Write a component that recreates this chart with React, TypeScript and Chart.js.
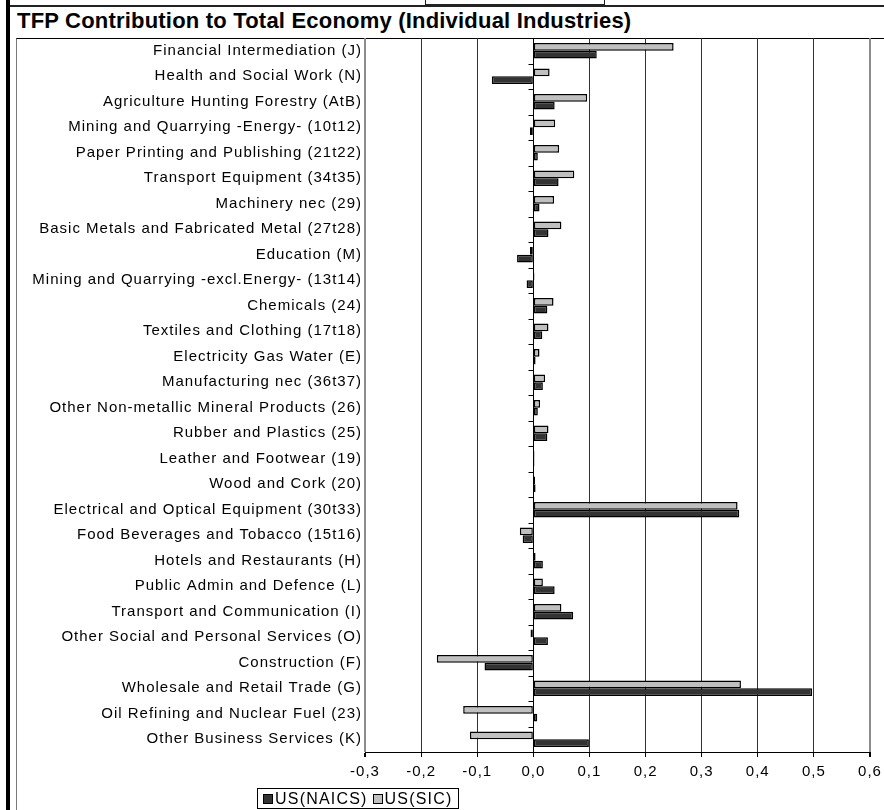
import React, { useEffect, useRef } from "react";
import { Chart, registerables } from "chart.js";

Chart.register(...registerables);

const categories = [
  "Financial Intermediation (J)",
  "Health and Social Work (N)",
  "Agriculture Hunting Forestry (AtB)",
  "Mining and Quarrying -Energy- (10t12)",
  "Paper Printing and Publishing (21t22)",
  "Transport Equipment (34t35)",
  "Machinery nec (29)",
  "Basic Metals and Fabricated Metal (27t28)",
  "Education (M)",
  "Mining and Quarrying -excl.Energy- (13t14)",
  "Chemicals (24)",
  "Textiles and Clothing (17t18)",
  "Electricity Gas Water (E)",
  "Manufacturing nec (36t37)",
  "Other Non-metallic Mineral Products (26)",
  "Rubber and Plastics (25)",
  "Leather and Footwear (19)",
  "Wood and Cork (20)",
  "Electrical and Optical Equipment (30t33)",
  "Food Beverages and Tobacco (15t16)",
  "Hotels and Restaurants (H)",
  "Public Admin and Defence (L)",
  "Transport and Communication (I)",
  "Other Social and Personal Services (O)",
  "Construction (F)",
  "Wholesale and Retail Trade (G)",
  "Oil Refining and Nuclear Fuel (23)",
  "Other Business Services (K)",
];

const usSIC = [
  0.25, 0.029, 0.096, 0.039, 0.046, 0.073, 0.037, 0.05, -0.006, 0.002,
  0.036, 0.027, 0.011, 0.021, 0.012, 0.027, 0.002, 0.003, 0.364, -0.024,
  0.004, 0.017, 0.05, -0.005, -0.172, 0.37, -0.125, -0.113,
];

const usNAICS = [
  0.113, -0.074, 0.038, -0.006, 0.008, 0.045, 0.011, 0.027, -0.029, -0.012,
  0.025, 0.016, 0.004, 0.017, 0.008, 0.025, 0.002, 0.004, 0.367, -0.019,
  0.017, 0.038, 0.071, 0.026, -0.087, 0.497, 0.007, 0.099,
];

const xMin = -0.3;
const xMax = 0.6;
const xStep = 0.1;

const TITLE = "TFP Contribution to Total Economy (Individual Industries)";
const FONT = 'Arial, "Liberation Sans", sans-serif';

const textSpacingPlugin = {
  id: "textSpacing",
  beforeDraw(chart: any) {
    chart.ctx.letterSpacing = "1px";
  },
};

const zeroAxisPlugin = {
  id: "zeroAxis",
  afterDatasetsDraw(chart: any) {
    const { ctx, chartArea, scales } = chart;
    const x0 = Math.round(scales.x.getPixelForValue(0)) + 0.5;
    ctx.save();
    ctx.strokeStyle = "#000";
    ctx.lineWidth = 1;
    ctx.beginPath();
    ctx.moveTo(x0, chartArea.top);
    ctx.lineTo(x0, chartArea.bottom);
    const n = categories.length;
    const h = (chartArea.bottom - chartArea.top) / n;
    for (let i = 0; i <= n; i++) {
      const y = Math.round(chartArea.top + i * h) + 0.5;
      ctx.moveTo(x0 - 5, y);
      ctx.lineTo(x0, y);
    }
    ctx.stroke();
    ctx.restore();
  },
};

function isNear(a: number, b: number) {
  return Math.abs(a - b) < 1e-6;
}

export default function App() {
  const canvasRef = useRef<HTMLCanvasElement | null>(null);

  useEffect(() => {
    if (!canvasRef.current) return;
    const chart = new Chart(canvasRef.current, {
      type: "bar",
      data: {
        labels: categories,
        datasets: [
          {
            label: "US(SIC)",
            data: usSIC,
            backgroundColor: "#c0c0c0",
            borderColor: "#000",
            borderWidth: 1.5,
            borderSkipped: false,
            categoryPercentage: 0.6,
            barPercentage: 1,
          },
          {
            label: "US(NAICS)",
            data: usNAICS,
            backgroundColor: "#333333",
            borderColor: "#000",
            borderWidth: 1.5,
            borderSkipped: false,
            categoryPercentage: 0.6,
            barPercentage: 1,
          },
        ],
      },
      options: {
        indexAxis: "y",
        animation: false,
        responsive: true,
        maintainAspectRatio: false,
        layout: { padding: { left: 0, right: 14, top: 0, bottom: 0 } },
        plugins: {
          legend: { display: false },
          tooltip: { enabled: false },
          title: { display: false },
        },
        scales: {
          x: {
            type: "linear",
            min: xMin,
            max: xMax,
            ticks: {
              stepSize: xStep,
              color: "#000",
              font: { family: FONT, size: 15 },
              padding: 6,
              callback: (v: any) => Number(v).toFixed(1).replace(".", ","),
            },
            grid: {
              color: (c: any) => {
                const v = c.tick ? c.tick.value : 0;
                if (isNear(v, 0)) return "#000";
                if (isNear(v, xMin) || isNear(v, xMax)) return "#8c8c8c";
                return "#333";
              },
              lineWidth: (c: any) => {
                const v = c.tick ? c.tick.value : 0;
                if (isNear(v, xMin) || isNear(v, xMax)) return 2;
                return 1;
              },
              tickColor: "#000",
              tickLength: 5,
            },
            border: { display: true, color: "#000", width: 1 },
            afterFit: (s: any) => {
              s.height = 58;
              s.paddingLeft = 0;
              s.paddingRight = 0;
            },
          },
          y: {
            type: "category",
            ticks: {
              color: "#000",
              font: { family: FONT, size: 15 },
              padding: 3,
              autoSkip: false,
            },
            grid: { display: false, drawTicks: false },
            border: { display: false },
            afterFit: (s: any) => {
              s.width = 348;
              s.paddingTop = 0;
              s.paddingBottom = 0;
            },
          },
        },
      },
      plugins: [textSpacingPlugin, zeroAxisPlugin],
    });
    return () => chart.destroy();
  }, []);

  const swatch = (bg: string) => (
    <span
      style={{
        display: "inline-block",
        width: 8,
        height: 8,
        background: bg,
        border: "1px solid #000",
        marginRight: 2,
        verticalAlign: "middle",
        position: "relative",
        top: -1,
      }}
    />
  );

  return (
    <div
      style={{
        position: "fixed",
        left: 0,
        top: 0,
        width: 884,
        height: 810,
        background: "#fff",
        overflow: "hidden",
        fontFamily: FONT,
      }}
    >
      {/* thick left bar */}
      <div style={{ position: "absolute", left: 6, top: 0, width: 4, height: 810, background: "#000" }} />
      {/* remnants of previous chart frame */}
      <div style={{ position: "absolute", left: 10, top: 5, width: 874, height: 0, borderTop: "2px solid #222" }} />
      <div
        style={{
          position: "absolute",
          left: 425,
          top: -3,
          width: 178,
          height: 6,
          border: "1px solid #222",
        }}
      />
      {/* title */}
      <div
        style={{
          position: "absolute",
          left: 17,
          top: 8,
          fontWeight: "bold",
          fontSize: 22,
          lineHeight: "25px",
          letterSpacing: "0.2px",
          color: "#000",
          whiteSpace: "nowrap",
        }}
      >
        {TITLE}
      </div>
      {/* chart frame */}
      <div
        style={{
          position: "absolute",
          left: 16,
          top: 38,
          width: 900,
          height: 800,
          borderTop: "1px solid #000",
          borderLeft: "1px solid #777",
        }}
      />
      <div style={{ position: "absolute", left: 17, top: 38, width: 867, height: 772 }}>
        <canvas ref={canvasRef} />
      </div>
      {/* legend */}
      <div
        style={{
          position: "absolute",
          left: 257,
          top: 788,
          border: "1px solid #000",
          padding: "0px 5px",
          fontSize: 16,
          color: "#000",
          whiteSpace: "nowrap",
          lineHeight: "19px",
          letterSpacing: "1.2px",
        }}
      >
        {swatch("#333333")}
        <span>US(NAICS)</span>
        <span style={{ display: "inline-block", width: 5 }} />
        {swatch("#c0c0c0")}
        <span>US(SIC)</span>
      </div>
    </div>
  );
}
